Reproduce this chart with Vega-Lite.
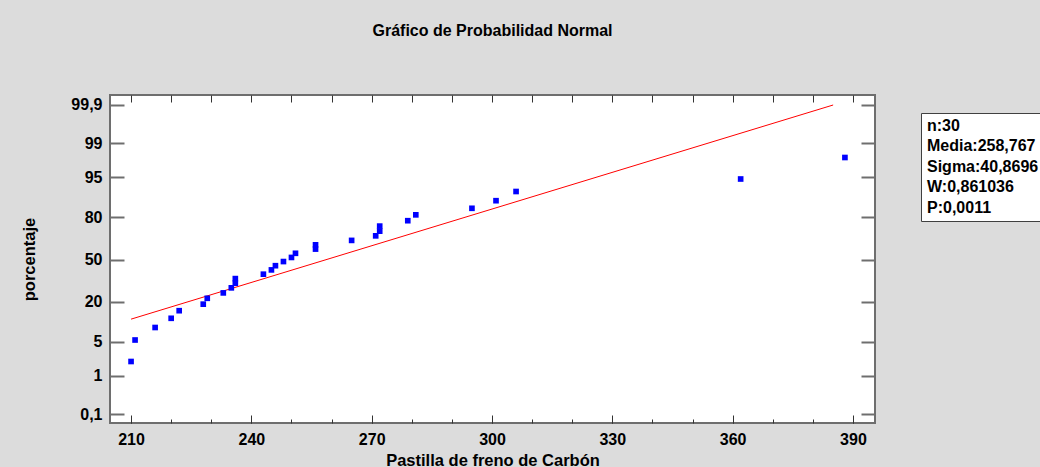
{
  "$schema": "https://vega.github.io/schema/vega-lite/v6.json",
  "width": 765,
  "height": 328,
  "autosize": {"type": "none"},
  "padding": {"left": 110, "top": 95, "right": 165, "bottom": 44},
  "background": "#dcdcdc",
  "title": {
    "text": "Gráfico de Probabilidad Normal",
    "anchor": "middle",
    "frame": "group",
    "font": "Liberation Sans, Arial",
    "fontSize": 16,
    "fontWeight": "bold",
    "color": "#000000",
    "offset": 56
  },
  "config": {
    "view": {"fill": "white", "stroke": "#6e6e6e", "strokeWidth": 2},
    "axis": {
      "grid": false,
      "domain": false,
      "labelFont": "Liberation Sans, Arial",
      "labelFontSize": 16,
      "labelFontWeight": "bold",
      "labelColor": "#000000",
      "titleFont": "Liberation Sans, Arial",
      "titleFontSize": 16.5,
      "titleFontWeight": "bold",
      "titleColor": "#000000"
    }
  },
  "datasets": {
    "puntos": [
      {"carbon": 210, "z": -2.040},
      {"carbon": 211, "z": -1.610},
      {"carbon": 216, "z": -1.360},
      {"carbon": 220, "z": -1.176},
      {"carbon": 222, "z": -1.024},
      {"carbon": 228, "z": -0.893},
      {"carbon": 229, "z": -0.776},
      {"carbon": 233, "z": -0.668},
      {"carbon": 235, "z": -0.567},
      {"carbon": 236, "z": -0.473},
      {"carbon": 236, "z": -0.382},
      {"carbon": 243, "z": -0.294},
      {"carbon": 245, "z": -0.208},
      {"carbon": 246, "z": -0.124},
      {"carbon": 248, "z": -0.041},
      {"carbon": 250, "z": 0.041},
      {"carbon": 251, "z": 0.124},
      {"carbon": 256, "z": 0.208},
      {"carbon": 256, "z": 0.294},
      {"carbon": 265, "z": 0.382},
      {"carbon": 271, "z": 0.473},
      {"carbon": 272, "z": 0.567},
      {"carbon": 272, "z": 0.668},
      {"carbon": 279, "z": 0.776},
      {"carbon": 281, "z": 0.893},
      {"carbon": 295, "z": 1.024},
      {"carbon": 301, "z": 1.176},
      {"carbon": 306, "z": 1.360},
      {"carbon": 362, "z": 1.610},
      {"carbon": 388, "z": 2.040}
    ],
    "recta": [
      {"carbon": 210, "z": -1.193},
      {"carbon": 385.06, "z": 3.090}
    ]
  },
  "layer": [
    {
      "data": {"name": "recta"},
      "mark": {"type": "line", "color": "#ff0000", "strokeWidth": 1},
      "encoding": {
        "x": {
          "field": "carbon", "type": "quantitative",
          "scale": {"domain": [204.75, 395.5], "nice": false, "zero": false},
          "axis": {"orient": "bottom", "values": [210, 240, 270, 300, 330, 360, 390], "labels": false, "ticks": true, "tickSize": -8, "tickColor": "#333333", "tickWidth": 1, "title": null}
        },
        "y": {
          "field": "z", "type": "quantitative",
          "scale": {"domain": [-3.27, 3.29], "nice": false, "zero": false},
          "axis": {"orient": "left", "values": [-3.0902, -2.3263, -1.6449, -0.8416, 0, 0.8416, 1.6449, 2.3263, 3.0902], "labels": false, "ticks": true, "tickSize": -14, "tickColor": "#6e6e6e", "tickWidth": 2, "title": null}
        }
      }
    },
    {
      "data": {"name": "recta"},
      "mark": {"type": "line", "strokeOpacity": 0},
      "encoding": {
        "x": {
          "field": "carbon", "type": "quantitative",
          "scale": {"domain": [204.75, 395.5], "nice": false, "zero": false},
          "axis": {"orient": "bottom", "values": [210, 220, 230, 240, 250, 260, 270, 280, 290, 300, 310, 320, 330, 340, 350, 360, 370, 380, 390], "labels": false, "ticks": true, "tickSize": -4, "tickColor": "#333333", "tickWidth": 1, "title": null}
        },
        "y": {
          "field": "z", "type": "quantitative",
          "scale": {"domain": [-3.27, 3.29], "nice": false, "zero": false},
          "axis": {"orient": "right", "values": [-3.0902, -2.3263, -1.6449, -0.8416, 0, 0.8416, 1.6449, 2.3263, 3.0902], "labels": false, "ticks": true, "tickSize": -14, "tickColor": "#6e6e6e", "tickWidth": 2, "title": null}
        }
      }
    },
    {
      "data": {"name": "recta"},
      "mark": {"type": "line", "strokeOpacity": 0},
      "encoding": {
        "x": {
          "field": "carbon", "type": "quantitative",
          "scale": {"domain": [204.75, 395.5], "nice": false, "zero": false},
          "axis": {"orient": "top", "values": [210, 220, 230, 240, 250, 260, 270, 280, 290, 300, 310, 320, 330, 340, 350, 360, 370, 380, 390], "labels": false, "ticks": true, "tickSize": -7, "tickColor": "#333333", "tickWidth": 1, "title": null}
        },
        "y": {
          "field": "z", "type": "quantitative",
          "scale": {"domain": [-3.27, 3.29], "nice": false, "zero": false},
          "axis": null
        }
      }
    },
    {
      "data": {"name": "puntos"},
      "mark": {"type": "square", "size": 32, "filled": true, "opacity": 1},
      "encoding": {
        "x": {
          "field": "carbon", "type": "quantitative",
          "scale": {"domain": [204.75, 395.5], "nice": false, "zero": false},
          "axis": {"orient": "bottom", "values": [210, 240, 270, 300, 330, 360, 390], "ticks": false, "tickSize": 0, "labelPadding": 8, "title": "Pastilla de freno de Carbón", "titlePadding": 5}
        },
        "y": {
          "field": "z", "type": "quantitative",
          "scale": {"domain": [-3.27, 3.29], "nice": false, "zero": false},
          "axis": {
            "orient": "left",
            "values": [-3.0902, -2.3263, -1.6449, -0.8416, 0, 0.8416, 1.6449, 2.3263, 3.0902],
            "labelExpr": "datum.value > 3 ? '99,9' : datum.value > 2 ? '99' : datum.value > 1.5 ? '95' : datum.value > 0.5 ? '80' : datum.value > -0.5 ? '50' : datum.value > -1 ? '20' : datum.value > -2 ? '5' : datum.value > -3 ? '1' : '0,1'",
            "ticks": false, "tickSize": 0, "labelPadding": 8,
            "title": "porcentaje", "titlePadding": 33
          }
        },
        "color": {
          "datum": "n:30",
          "type": "nominal",
          "scale": {
            "domain": ["n:30", "Media:258,767", "Sigma:40,8696", "W:0,861036", "P:0,0011"],
            "range": ["#0000ff", "#0000ff", "#0000ff", "#0000ff", "#0000ff"]
          },
          "legend": {
            "orient": "none",
            "legendX": 811,
            "legendY": 18,
            "title": null,
            "symbolSize": 0,
            "symbolOpacity": 0,
            "symbolStrokeWidth": 0,
            "labelOffset": -15,
            "labelFont": "Liberation Sans, Arial",
            "labelFontSize": 16,
            "labelFontWeight": "bold",
            "labelColor": "#000000",
            "labelLimit": 400,
            "fillColor": "#ffffff",
            "strokeColor": "#404040",
            "padding": 5,
            "rowPadding": 4.4
          }
        }
      }
    }
  ],
  "resolve": {"axis": {"x": "independent", "y": "independent"}}
}
